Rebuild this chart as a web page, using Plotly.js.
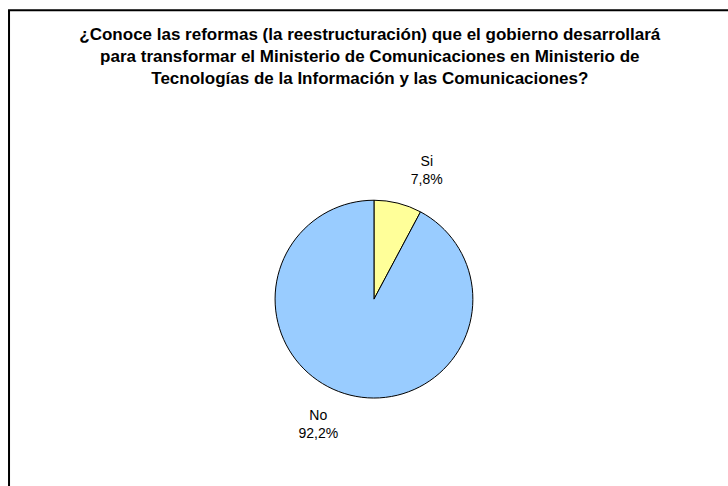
<!DOCTYPE html>
<html>
<head>
<meta charset="utf-8">
<script src="https://cdn.plot.ly/plotly-3.0.1.min.js"></script>
<style>html,body{margin:0;padding:0;background:#fff;}#chart{width:728px;height:486px;}</style>
</head>
<body>
<div id="chart"></div>
<script>
const categories = ["Si", "No"];
const values = [7.8, 92.2];
const sliceColors = ["#FFFF99", "#99CCFF"];
const titleLines = [
  "¿Conoce las reformas (la reestructuración) que el gobierno desarrollará",
  "para transformar el Ministerio de Comunicaciones en Ministerio de",
  "Tecnologías de la Información y las Comunicaciones?"
];

const data = [{
  type: "pie",
  labels: categories,
  values: values,
  sort: false,
  direction: "clockwise",
  rotation: 0,
  marker: {colors: sliceColors, line: {color: "#000000", width: 1}},
  textposition: "outside",
  texttemplate: [
    "%{label}<br>%{percent:.1%}<br><span style='font-size:9px'> </span>",
    "<span style='font-size:9px'> </span><br>%{label}<br>%{percent:.1%}"
  ],
  textfont: {family: "Liberation Sans, Arial, sans-serif", size: 14, color: "#000000"},
  outsidetextfont: {family: "Liberation Sans, Arial, sans-serif", size: 14, color: "#000000"},
  hoverinfo: "label+percent",
  showlegend: false,
  domain: {x: [0.3777, 0.6497], y: [0.181, 0.588]}
}];

const layout = {
  width: 728,
  height: 486,
  margin: {l: 0, r: 0, t: 0, b: 0},
  paper_bgcolor: "#ffffff",
  plot_bgcolor: "#ffffff",
  separators: ",.",
  showlegend: false,
  title: {
    text: "<b>" + titleLines.join("<br>") + "</b>",
    x: 0.508,
    xanchor: "center",
    y: 0.918,
    yref: "container",
    yanchor: "top",
    font: {family: "Liberation Sans, Arial, sans-serif", size: 17, color: "#000000"}
  },
  shapes: [{
    type: "rect", xref: "paper", yref: "paper",
    x0: 0.0124, x1: 1.1, y0: -0.1, y1: 0.979,
    line: {color: "#000000", width: 2}
  }]
};

Plotly.newPlot("chart", data, layout, {displayModeBar: false, staticPlot: true});
</script>
</body>
</html>
